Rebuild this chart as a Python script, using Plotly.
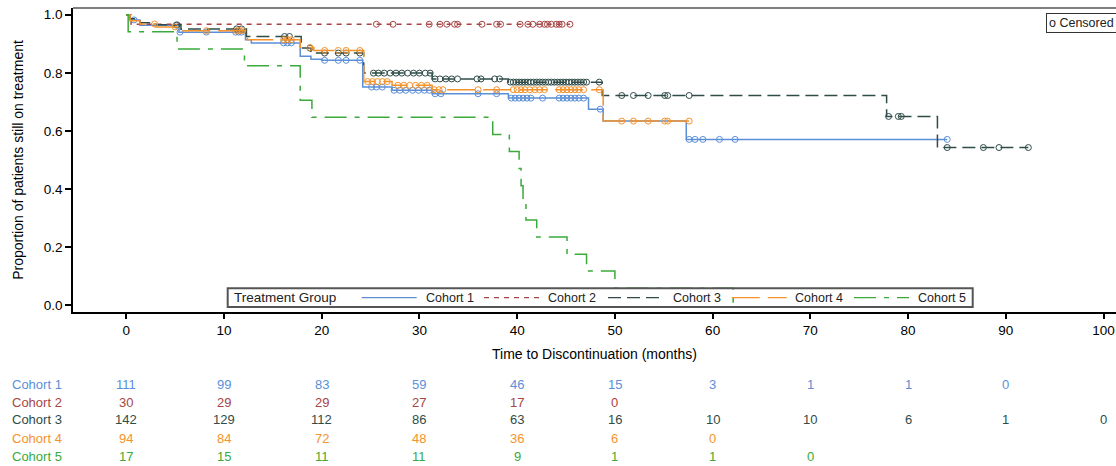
import numpy as np
import plotly.graph_objects as go

# ---------------- data ----------------
cohorts = ["Cohort 1", "Cohort 2", "Cohort 3", "Cohort 4", "Cohort 5"]

# Kaplan-Meier step times (months) and survival after each step
c1_t = [0, 0.4, 1.4, 5.4, 12.2, 12.8, 17.8, 18.9, 20.0, 24.2, 27.2, 31.3, 39.1, 47.3, 48.8, 57.3]
c1_s = [1.0, 0.982, 0.964, 0.940, 0.914, 0.903, 0.857, 0.847, 0.843, 0.751, 0.740, 0.728, 0.713, 0.675, 0.634, 0.571]
c1_end = 84.0
c1_cens = [0.8, 5.1, 5.5, 8.2, 11.2, 11.5, 11.8, 16.1, 16.5, 16.9, 20.3, 21.7, 22.5, 23.9,
           25.1, 25.6, 26.2, 27.4, 28.0, 28.6, 29.3, 29.9, 30.5, 31.0, 31.6, 32.2, 36.0, 37.9,
           39.4, 39.8, 40.2, 40.6, 41.0, 41.4, 42.6, 44.3, 44.7, 45.1, 45.5, 45.9, 46.3, 46.8,
           48.5, 57.6, 58.2, 59.0, 60.7, 62.3, 84.0]

c2_t = [0, 0.5]
c2_s = [1.0, 0.967]
c2_end = 45.4
c2_cens = [25.6, 27.3, 31.0, 32.1, 32.8, 33.6, 33.9, 36.4, 37.9, 38.3, 40.3, 41.1, 41.6,
           42.3, 42.8, 43.1, 43.5, 44.0, 44.3, 44.6, 45.4]

c3_t = [0, 0.4, 1.4, 3.0, 5.6, 12.3, 17.9, 18.9, 24.3, 31.3, 39.1, 48.7, 77.8, 83.0]
c3_s = [1.0, 0.986, 0.972, 0.965, 0.951, 0.925, 0.885, 0.868, 0.799, 0.779, 0.768, 0.722, 0.650, 0.543]
c3_end = 92.3
c3_cens = [5.2, 11.3, 11.8, 16.2, 16.7, 18.8, 20.3, 21.7, 22.5, 23.9,
           25.3, 25.8, 26.4, 27.0, 27.6, 28.2, 28.8, 29.4, 30.0, 30.6, 31.1,
           31.6, 32.1, 32.7, 33.3, 33.9, 35.9, 36.3, 37.7, 38.2,
           39.3, 39.6, 39.9, 40.2, 40.5, 40.8, 41.1, 41.4, 41.7, 42.0, 42.3, 42.6, 42.9,
           43.2, 43.5, 43.8, 44.1, 44.4, 44.7, 45.0, 45.3, 45.6, 45.9, 46.2, 46.5, 46.8, 47.1,
           48.4, 50.7, 51.9, 53.4, 55.1, 55.4, 57.6, 78.0, 79.0, 79.3, 84.0, 87.7, 89.3, 92.3]

c4_t = [0, 0.4, 1.4, 3.0, 5.4, 12.4, 17.8, 19.2, 24.3, 27.2, 31.3, 48.8]
c4_s = [1.0, 0.979, 0.968, 0.958, 0.945, 0.914, 0.887, 0.877, 0.770, 0.757, 0.742, 0.634]
c4_end = 57.6
c4_cens = [2.9, 5.0, 8.2, 11.3, 11.6, 11.9, 16.1, 16.5, 16.9, 18.8, 20.3, 21.7, 22.5, 23.9,
           24.7, 25.2, 25.7, 26.2, 26.7, 27.8, 28.4, 29.0, 29.6, 30.2, 30.8, 31.5, 32.0, 32.4,
           36.0, 37.9, 39.6, 40.0, 40.4, 40.8, 41.3, 41.8, 42.3, 42.8, 44.3, 44.7, 45.1, 45.5,
           45.9, 46.3, 46.8, 48.4, 50.7, 51.9, 53.4, 55.1, 55.4, 57.6]

c5_t = [0, 0.2, 5.2, 12.1, 17.8, 19.0, 37.5, 39.2, 40.2, 40.4, 40.6, 40.9, 42.0, 45.1, 47.1, 50.0, 62.1]
c5_s = [1.0, 0.941, 0.882, 0.824, 0.706, 0.647, 0.588, 0.529, 0.471, 0.412, 0.353, 0.294, 0.235, 0.176, 0.118, 0.059, 0.0]
c5_end = 62.1
c5_cens = []

# numbers at risk
risk_times = [0, 10, 20, 30, 40, 50, 60, 70, 80, 90, 100]
risk_c1 = [111, 99, 83, 59, 46, 15, 3, 1, 1, 0]
risk_c2 = [30, 29, 29, 27, 17, 0]
risk_c3 = [142, 129, 112, 86, 63, 16, 10, 10, 6, 1, 0]
risk_c4 = [94, 84, 72, 48, 36, 6, 0]
risk_c5 = [17, 15, 11, 11, 9, 1, 1, 0]

y_ticks = [0.0, 0.2, 0.4, 0.6, 0.8, 1.0]

# ---------------- styles ----------------
colors = ["#5b8fd8", "#a84444", "#2f4c48", "#f5922a", "#3aaa3a"]
dashes = ["solid", "5px,5px", "13px,6px", "28px,8px", "22px,8px,5px,8px"]
FONT = "Liberation Sans, Arial, sans-serif"

W, H = 1116, 466
ML, MT, MB, MR = 73, 8, 154, 0
PW, PH = W - ML - MR, H - MT - MB


def px_x(px):
    return (px - ML) / PW


def px_y(py):
    return (H - MB - py) / PH


series = [
    (c1_t, c1_s, c1_end, c1_cens, risk_c1),
    (c2_t, c2_s, c2_end, c2_cens, risk_c2),
    (c3_t, c3_s, c3_end, c3_cens, risk_c3),
    (c4_t, c4_s, c4_end, c4_cens, risk_c4),
    (c5_t, c5_s, c5_end, c5_cens, risk_c5),
]

fig = go.Figure()

for i, (t, s, end, cens, risk) in enumerate(series):
    xs = list(t) + [end]
    ys = list(s) + [s[-1]]
    fig.add_trace(go.Scatter(
        x=xs, y=ys, mode="lines", line_shape="hv",
        line=dict(color=colors[i], width=1.5, dash=dashes[i]),
        name=cohorts[i], showlegend=False, hoverinfo="skip"))
    if cens:
        idx = np.searchsorted(np.array(t), np.array(cens), side="right") - 1
        cy = [s[k] for k in idx]
        fig.add_trace(go.Scatter(
            x=cens, y=cy, mode="markers",
            marker=dict(symbol="circle-open", size=6, color=colors[i],
                        line=dict(width=1, color=colors[i])),
            name=cohorts[i] + " censored", showlegend=False, hoverinfo="skip"))

shapes = []
annotations = []

# top frame line
shapes.append(dict(type="line", xref="paper", yref="paper", x0=0, x1=1, y0=1, y1=1,
                   line=dict(color="#7f7f7f", width=2), layer="above"))

# custom legend (inside plot, bottom)
LEG_TOP, LEG_BOT = 288.25, 307
shapes.append(dict(type="rect", xref="paper", yref="paper",
                   x0=px_x(227.7), x1=px_x(972.7), y0=px_y(LEG_BOT), y1=px_y(LEG_TOP),
                   line=dict(color="#555555", width=2), fillcolor="rgba(0,0,0,0)", layer="above"))
LEG_MID = (LEG_TOP + LEG_BOT) / 2
annotations.append(dict(xref="paper", yref="paper", x=px_x(232), y=px_y(LEG_MID),
                        xanchor="left", yanchor="middle", showarrow=False,
                        text="Treatment Group", font=dict(family=FONT, size=13.5, color="#222222")))
leg_line_x = [361.7, 484, 608, 731.7, 854]
leg_line_w = 55
leg_text_x = [424, 546, 671, 793, 916]
for i in range(5):
    shapes.append(dict(type="line", xref="paper", yref="paper",
                       x0=px_x(leg_line_x[i]), x1=px_x(leg_line_x[i] + leg_line_w),
                       y0=px_y(LEG_MID), y1=px_y(LEG_MID),
                       line=dict(color=colors[i], width=1.3, dash=dashes[i]), layer="above"))
    annotations.append(dict(xref="paper", yref="paper", x=px_x(leg_text_x[i]), y=px_y(LEG_MID),
                            xanchor="left", yanchor="middle", showarrow=False,
                            text=cohorts[i], font=dict(family=FONT, size=12.5, color="#222222")))

# censored legend box (top right)
annotations.append(dict(xref="paper", yref="paper", x=px_x(1046), y=px_y(22.8),
                        xanchor="left", yanchor="middle", showarrow=False,
                        text="o Censored", font=dict(family=FONT, size=12.5, color="#222222"),
                        bordercolor="#333333", borderwidth=1, borderpad=2, bgcolor="white"))

# numbers at risk table
row_y = [384, 402, 420, 438, 456]
for i, (t, s, end, cens, risk) in enumerate(series):
    annotations.append(dict(xref="paper", yref="paper", x=px_x(10), y=px_y(row_y[i]),
                            xanchor="left", yanchor="middle", showarrow=False,
                            text=cohorts[i], font=dict(family=FONT, size=13, color=colors[i])))
    for tt, n in zip(risk_times, risk):
        annotations.append(dict(xref="x", yref="paper", x=tt, y=px_y(row_y[i]),
                                xanchor="center", yanchor="middle", showarrow=False,
                                text=str(n), font=dict(family=FONT, size=13, color=colors[i])))

fig.update_layout(
    width=W, height=H,
    margin=dict(l=ML, r=MR, t=MT, b=MB, pad=0),
    paper_bgcolor="white", plot_bgcolor="white",
    font=dict(family=FONT, size=13.5, color="#000000"),
    showlegend=False,
    shapes=shapes, annotations=annotations,
    xaxis=dict(range=[-5.445, 101.27], tickvals=risk_times, ticks="outside", ticklen=5,
               tickwidth=1.5, tickcolor="black", showline=True, linecolor="black", linewidth=2,
               showgrid=False, zeroline=False, tickfont=dict(size=13.5),
               title=dict(text="Time to Discontinuation (months)", font=dict(size=14), standoff=12),
               automargin=False, fixedrange=True),
    yaxis=dict(range=[-0.0227, 1.023], tickvals=y_ticks, tickformat=".1f", ticks="outside",
               ticklen=6, tickwidth=1.5, tickcolor="black", showline=True, linecolor="black",
               linewidth=1.5, showgrid=False, zeroline=False, tickfont=dict(size=13.5),
               title=dict(text="Proportion of patients still on treatment", font=dict(size=14),
                          standoff=17),
               automargin=False, fixedrange=True),
)

fig.write_html("out.html")
